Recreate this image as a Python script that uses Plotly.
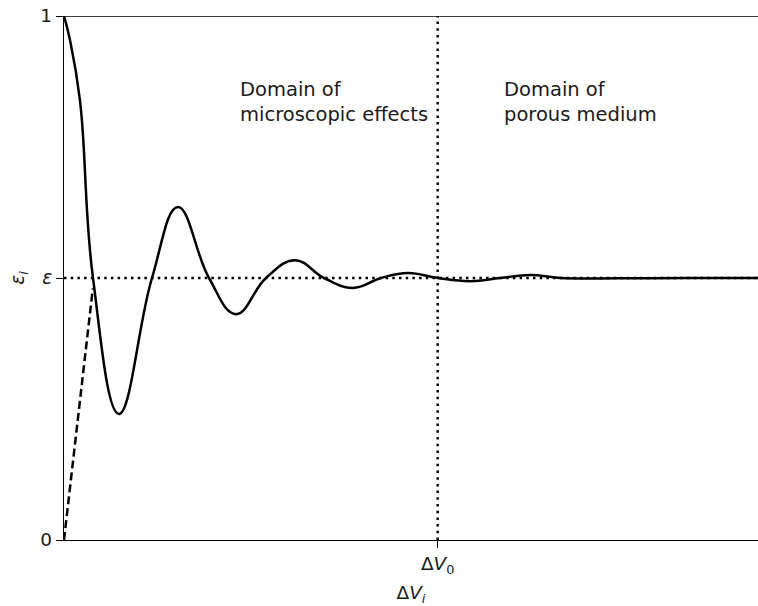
import plotly.graph_objects as go

# Curve (x in axis units, ΔV0 = 7): extrema and crossings
curve_x = [0.0, 0.11, 0.30, 0.543, 1.03, 1.648, 2.135, 2.716, 3.222, 3.784, 4.327,
           4.87, 5.413, 5.94, 6.444, 7.0, 7.605, 8.17, 8.73, 9.3, 10.4, 11.7, 13.0]
curve_y = [1.0, 0.955, 0.838, 0.5, 0.2405, 0.5, 0.6355, 0.5, 0.431, 0.5, 0.534,
           0.5, 0.481, 0.5, 0.5095, 0.5, 0.494, 0.5, 0.5057, 0.5, 0.4995, 0.5, 0.5]

dash_x = [0.0, 0.54]
dash_y = [0.0, 0.48]

eps = 0.5
dv0 = 7.0
x_max = 13.0

y_tickvals = [0, eps, 1]
y_ticktext = ["0", "<i>ε</i>", "1"]
x_tickvals = [dv0]
x_ticktext = ["Δ<i>V</i><sub>0</sub>"]

FS = 18.5

fig = go.Figure()
fig.add_trace(go.Scatter(x=[0, x_max], y=[eps, eps], mode="lines",
                         line=dict(color="black", width=2.5, dash="2.5px,4.2px"),
                         hoverinfo="skip"))
fig.add_trace(go.Scatter(x=[dv0, dv0], y=[0, 1], mode="lines",
                         line=dict(color="black", width=2.5, dash="2.5px,4.2px"),
                         hoverinfo="skip"))
fig.add_trace(go.Scatter(x=dash_x, y=dash_y, mode="lines",
                         line=dict(color="black", width=2.5, dash="8px,4px")))
fig.add_trace(go.Scatter(x=curve_x, y=curve_y, mode="lines",
                         line=dict(color="black", width=2.5, shape="spline", smoothing=1.2)))

fig.add_shape(type="line", xref="paper", yref="y", x0=0, x1=1, y0=1, y1=1,
              line=dict(color="black", width=1.3))

fig.add_annotation(x=3.25, y=0.886, xref="x", yref="y", xanchor="left", yanchor="top",
                   align="left", showarrow=False,
                   text="Domain of<br>microscopic effects",
                   font=dict(family="DejaVu Sans", size=19.5, color="#1a1a1a"))
fig.add_annotation(x=8.2, y=0.886, xref="x", yref="y", xanchor="left", yanchor="top",
                   align="left", showarrow=False,
                   text="Domain of<br>porous medium",
                   font=dict(family="DejaVu Sans", size=19.5, color="#1a1a1a"))

fig.update_layout(
    width=758, height=606,
    margin=dict(l=64, r=0, t=16, b=66),
    plot_bgcolor="white", paper_bgcolor="white",
    showlegend=False,
    font=dict(family="DejaVu Sans", size=FS, color="black"),
    xaxis=dict(range=[0, x_max], showgrid=False, zeroline=False,
               showline=True, linecolor="black", linewidth=1.3,
               ticks="outside", ticklen=7, tickwidth=1.3, tickcolor="black",
               tickvals=x_tickvals, ticktext=x_ticktext,
               tickfont=dict(family="DejaVu Sans", size=FS, color="#1a1a1a"),
               title=dict(text="Δ<i>V</i><sub><i>i</i></sub>", standoff=9,
                          font=dict(family="DejaVu Sans", size=FS, color="#1a1a1a")),
               automargin=False),
    yaxis=dict(range=[0, 1], showgrid=False, zeroline=False,
               showline=True, linecolor="black", linewidth=1.3,
               ticks="outside", ticklen=7, tickwidth=1.3, tickcolor="black",
               tickvals=y_tickvals, ticktext=y_ticktext,
               tickfont=dict(family="DejaVu Sans", size=FS, color="#1a1a1a"),
               title=dict(text="<i>ε<sub>i</sub></i>", standoff=10,
                          font=dict(family="DejaVu Sans", size=FS, color="#1a1a1a")),
               automargin=False),
)

fig.write_html("out.html")
